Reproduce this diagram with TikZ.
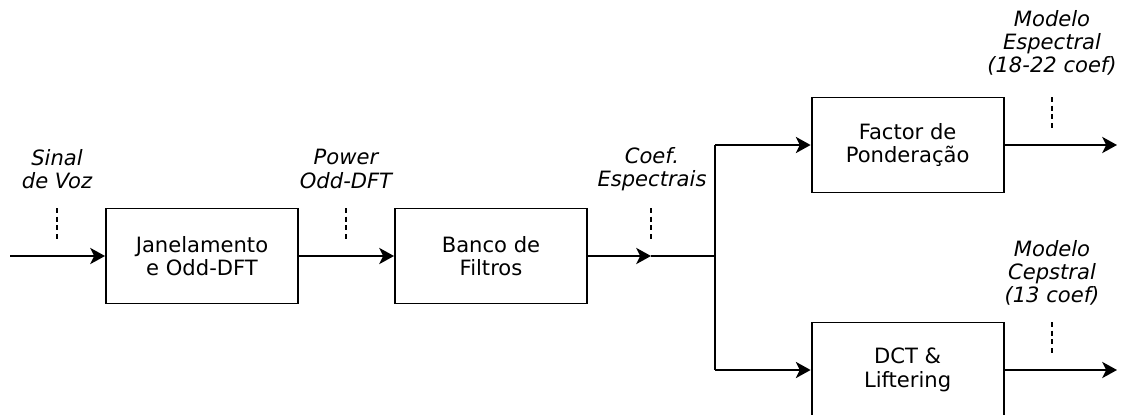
\documentclass[tikz,border=0pt]{standalone}
\usepackage{fontspec}
\setmainfont{DejaVu Sans}
\usetikzlibrary{arrows.meta}

\begin{document}
\begin{tikzpicture}[
    font=\fontsize{15}{16.6}\selectfont,
    block/.style={rectangle, draw, line width=1.4pt, minimum width=4.8cm, minimum height=2.375cm, align=center},
    lbl/.style={align=center, font=\fontsize{15}{16.6}\selectfont\itshape},
    flow/.style={line width=1.4pt, -{Stealth[length=10.5pt,width=11.5pt,inset=2.8pt]}},
    wire/.style={line width=1.4pt},
    dashmark/.style={line width=0.9pt, dash pattern=on 3.6pt off 2.6pt}
]
\useasboundingbox (0,0) rectangle (28.025,10.35);
\clip (0,0) rectangle (28.025,10.35);

% Blocks
\node[block] (janela) at (5.05,3.95) {Janelamento\\e Odd-DFT};
\node[block] (banco) at (12.275,3.95) {Banco de\\Filtros};
\node[block] (factor) at (22.69,6.725) {Factor de\\Ponderação};
\node[block] (dct) at (22.69,1.1) {DCT \&\\Liftering};

% Free ends and branch points
\coordinate (entrada) at (0.25,3.95);
\coordinate (coefs) at (16.275,3.95);
\coordinate (ramo) at (17.875,3.95);
\coordinate (ramoA) at (17.875,6.725);
\coordinate (ramoB) at (17.875,1.1);
\coordinate (saidaA) at (27.925,6.725);
\coordinate (saidaB) at (27.925,1.1);

% Signal labels
\node[lbl] (voz) at (1.425,6.125) {Sinal\\de Voz};
\node[lbl] (power) at (8.65,6.125) {Power\\Odd-DFT};
\node[lbl] (espect) at (16.3,6.125) {Coef.\\Espectrais};
\node[lbl] (modA) at (26.3,9.275) {Modelo\\Espectral\\(18-22 coef)};
\node[lbl] (modB) at (26.3,3.525) {Modelo\\Cepstral\\(13 coef)};

% Dashed markers
\coordinate (vozT) at (1.425,5.15);
\coordinate (vozB) at (1.425,4.325);
\coordinate (powT) at (8.65,5.15);
\coordinate (powB) at (8.65,4.325);
\coordinate (espT) at (16.275,5.15);
\coordinate (espB) at (16.275,4.325);
\coordinate (modAT) at (26.3,7.925);
\coordinate (modAB) at (26.3,7.15);
\coordinate (modBT) at (26.3,2.3);
\coordinate (modBB) at (26.3,1.525);
\draw[dashmark] (vozT) -- (vozB);
\draw[dashmark] (powT) -- (powB);
\draw[dashmark] (espT) -- (espB);
\draw[dashmark] (modAT) -- (modAB);
\draw[dashmark] (modBT) -- (modBB);

% Main chain
\draw[flow] (entrada) -- (janela);
\draw[flow] (janela) -- (banco);
\draw[flow] (banco) -- (coefs);
\draw[wire] (coefs) -- (ramo);

% Branches
\draw[wire] (ramoA) -- (ramoB);
\draw[flow] (ramoA) -- (factor);
\draw[flow] (ramoB) -- (dct);

% Outputs
\draw[flow] (factor) -- (saidaA);
\draw[flow] (dct) -- (saidaB);

\end{tikzpicture}
\end{document}
